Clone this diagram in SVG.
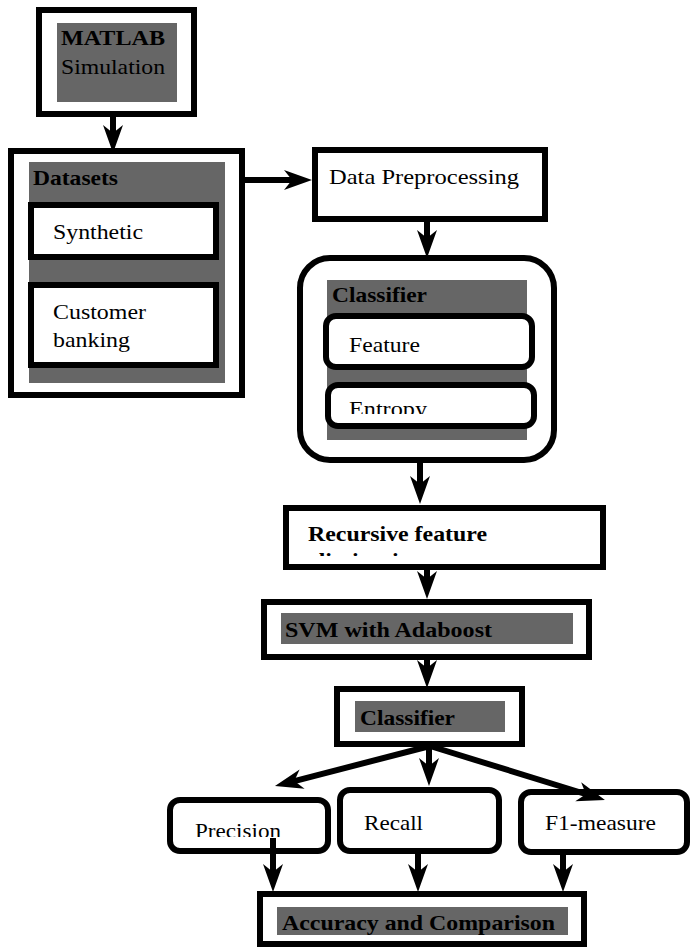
<svg xmlns="http://www.w3.org/2000/svg" width="691" height="948" viewBox="0 0 691 948">
<style>
.box{fill:#fff;stroke:#000;stroke-width:6}
.g{fill:#666666}
.t{font-family:'Liberation Serif','Times New Roman',serif;font-size:22px;fill:#000}
.b{font-weight:bold}
.c{fill:none;stroke:#000;stroke-width:6}
</style>
<defs>
<marker id="ah" markerUnits="userSpaceOnUse" markerWidth="40" markerHeight="30" refX="20" refY="15" orient="auto" overflow="visible">
<path d="M32,15 L4,5 L12,15 L4,25 Z" fill="#000"/>
</marker>
<clipPath id="clipEntropy"><rect x="325" y="380" width="215" height="34"/></clipPath>
<clipPath id="clipElim"><rect x="286" y="540" width="317" height="16"/></clipPath>
<clipPath id="clipPrec"><rect x="170" y="800" width="160" height="37"/></clipPath>
</defs>
<rect width="691" height="948" fill="#fff"/>

<g id="matlab">
<rect class="box" x="39" y="10" width="155" height="104"/>
<rect class="g" x="57" y="23" width="120" height="79"/>
<text class="t b" x="61" y="45" textLength="104" lengthAdjust="spacingAndGlyphs">MATLAB</text>
<text class="t" x="61" y="74" textLength="104" lengthAdjust="spacingAndGlyphs">Simulation</text>
</g>

<g id="datasets">
<rect class="box" x="11" y="151" width="231" height="244"/>
<rect class="g" x="29" y="162" width="196" height="221"/>
<text class="t b" x="33" y="185" textLength="85" lengthAdjust="spacingAndGlyphs">Datasets</text>
</g>
<g id="synthetic">
<rect class="box" x="31" y="205" width="185" height="52"/>
<text class="t" x="53" y="239" textLength="90" lengthAdjust="spacingAndGlyphs">Synthetic</text>
</g>
<g id="customer">
<rect class="box" x="31" y="285" width="185" height="80"/>
<text class="t" x="53" y="319" textLength="93" lengthAdjust="spacingAndGlyphs">Customer</text>
<text class="t" x="53" y="347" textLength="77" lengthAdjust="spacingAndGlyphs">banking</text>
</g>

<g id="preprocessing">
<rect class="box" x="315" y="150" width="230" height="69"/>
<text class="t" x="329" y="184" textLength="190" lengthAdjust="spacingAndGlyphs">Data Preprocessing</text>
</g>

<g id="classifier1">
<rect class="box" x="300" y="258" width="254" height="202" rx="30" ry="30"/>
<rect class="g" x="327" y="280" width="200" height="160"/>
<text class="t b" x="332" y="302" textLength="95" lengthAdjust="spacingAndGlyphs">Classifier</text>
</g>
<g id="feature">
<rect class="box" x="326" y="316" width="206" height="51" rx="10" ry="10"/>
<text class="t" x="349" y="352" textLength="71" lengthAdjust="spacingAndGlyphs">Feature</text>
</g>
<g id="entropy">
<rect class="box" x="328" y="385" width="206" height="41" rx="10" ry="10"/>
<text class="t" x="349" y="416" textLength="78" lengthAdjust="spacingAndGlyphs" clip-path="url(#clipEntropy)">Entropy</text>
</g>

<g id="rfe">
<rect class="box" x="286" y="508" width="317" height="59"/>
<text class="t b" x="308" y="541" textLength="179" lengthAdjust="spacingAndGlyphs">Recursive feature</text>
<text class="t b" x="308" y="568" textLength="116" lengthAdjust="spacingAndGlyphs" clip-path="url(#clipElim)">elimination</text>
</g>

<g id="svm">
<rect class="box" x="264" y="602" width="325" height="55"/>
<rect class="g" x="281" y="613" width="292" height="31"/>
<text class="t b" x="285" y="637" textLength="207" lengthAdjust="spacingAndGlyphs">SVM with Adaboost</text>
</g>

<g id="classifier2">
<rect class="box" x="337" y="689" width="185" height="55"/>
<rect class="g" x="355" y="701" width="150" height="31"/>
<text class="t b" x="360" y="725" textLength="95" lengthAdjust="spacingAndGlyphs">Classifier</text>
</g>

<g id="precision">
<rect class="box" x="170" y="800" width="158" height="51" rx="10" ry="10"/>
<text class="t" x="195" y="838" textLength="86" lengthAdjust="spacingAndGlyphs" clip-path="url(#clipPrec)">Precision</text>
</g>
<g id="recall">
<rect class="box" x="340" y="790" width="159" height="61" rx="10" ry="10"/>
<text class="t" x="364" y="830" textLength="59" lengthAdjust="spacingAndGlyphs">Recall</text>
</g>
<g id="f1">
<rect class="box" x="521" y="792" width="166" height="60" rx="10" ry="10"/>
<text class="t" x="545" y="830" textLength="111" lengthAdjust="spacingAndGlyphs">F1-measure</text>
</g>

<g id="accuracy">
<rect class="box" x="260" y="894" width="324" height="50"/>
<rect class="g" x="277" y="907" width="291" height="28"/>
<text class="t b" x="282" y="930" textLength="273" lengthAdjust="spacingAndGlyphs">Accuracy and Comparison</text>
</g>

<g id="connectors">
<line class="c" x1="113" y1="117" x2="113" y2="141" marker-end="url(#ah)"/>
<line class="c" x1="245" y1="180" x2="300" y2="180" marker-end="url(#ah)"/>
<line class="c" x1="427" y1="222" x2="427" y2="246" marker-end="url(#ah)"/>
<line class="c" x1="420" y1="463" x2="420" y2="492" marker-end="url(#ah)"/>
<line class="c" x1="427" y1="570" x2="427" y2="587" marker-end="url(#ah)"/>
<line class="c" x1="427" y1="660" x2="427" y2="676" marker-end="url(#ah)"/>
<line class="c" x1="430" y1="746" x2="286.6" y2="783.1" marker-end="url(#ah)"/>
<line class="c" x1="429" y1="746" x2="429" y2="774" marker-end="url(#ah)"/>
<line class="c" x1="430" y1="746" x2="593.5" y2="796.5" marker-end="url(#ah)"/>
<line class="c" x1="273" y1="838" x2="273" y2="880" marker-end="url(#ah)"/>
<line class="c" x1="418" y1="854" x2="418" y2="880" marker-end="url(#ah)"/>
<line class="c" x1="563" y1="855" x2="563" y2="880" marker-end="url(#ah)"/>
</g>
</svg>
